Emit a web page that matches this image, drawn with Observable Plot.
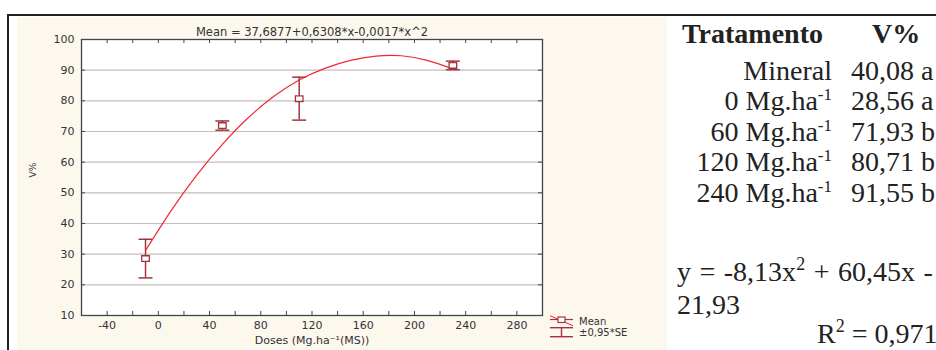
<!DOCTYPE html>
<html>
<head>
<meta charset="utf-8">
<script src="https://cdn.jsdelivr.net/npm/d3@7"></script>
<script src="https://cdn.jsdelivr.net/npm/@observablehq/plot@0.6"></script>
<style>
  html, body { margin: 0; padding: 0; background: #fff; }
  #page { position: relative; width: 936px; height: 350px; overflow: hidden; }
  #rule-top { position: absolute; left: 7px; top: 14px; width: 929px; height: 2px; background: #222; }
  #rule-left { position: absolute; left: 7px; top: 14px; width: 2px; height: 336px; background: #222; }
  #panel { position: absolute; left: 17px; top: 17px; width: 650px; height: 333px; background: #fcf8ee; }
  #legend { position: absolute; left: 545px; top: 310px; }
  #table { position: absolute; left: 668px; top: 0; }
  #table text { font-family: "Liberation Serif", "Times New Roman", serif; font-size: 28px; fill: #222; }
</style>
</head>
<body>
<div id="page">
  <div id="rule-top"></div>
  <div id="rule-left"></div>
  <div id="panel"></div>
  <svg id="legend" width="110" height="34"></svg>
  <svg id="table" width="268" height="350"></svg>
</div>
<script>
// Treatment means of base saturation (V%) with ±0.95*SE bars
const doses = [-10, 50, 110, 230];
const meanV = [28.56, 71.93, 80.71, 91.55];
const halfSE = [6.3, 1.5, 7.0, 1.4];

// Fitted quadratic curve, traced along the dose axis
const curveDose = [-10, 10, 30, 50, 70, 90, 110, 130, 150, 170, 190, 210, 230];
const curveV = [31.2, 44.2, 55.8, 65.8, 74.4, 81.4, 86.8, 90.6, 93.2, 94.6, 94.7, 93.2, 90.4];

// Axis ticks
const xTickLabels = [-40, 0, 40, 80, 120, 160, 200, 240, 280];
const xTickMarks = [-40, -20, 0, 20, 40, 60, 80, 100, 120, 140, 160, 180, 200, 220, 240, 260, 280];
const yTickLabels = [10, 20, 30, 40, 50, 60, 70, 80, 90, 100];
const yGrid = [20, 30, 40, 50, 60, 70, 80, 90];

// Chart texts
const titleText = "Mean = 37,6877+0,6308*x-0,0017*x^2";
const xLabel = "Doses (Mg.ha\u207B\u00B9(MS))";
const yLabel = "V%";
const legendLabels = ["Mean", "\u00B10,95*SE"];

// Side table
const treatments = ["Mineral", "0", "60", "120", "240"];
const treatmentV = ["40,08 a", "28,56 a", "71,93 b", "80,71 b", "91,55 b"];

const points = doses.map((d, i) => ({dose: d, mean: meanV[i], half: halfSE[i]}));
const caps = points.flatMap(p => [{dose: p.dose, v: p.mean - p.half}, {dose: p.dose, v: p.mean + p.half}]);
const curve = curveDose.map((d, i) => ({dose: d, v: curveV[i]}));

const errColor = "#a3343f";
const W = 650, H = 333;
const mL = 64, mR = 125, mT = 22, mB = 35;
const plotW = W - mL - mR, plotH = H - mT - mB;

// horizontal cap of an error bar, half-width = r
const capSymbol = {draw(ctx, size) { const r = Math.sqrt(size / Math.PI); ctx.moveTo(-r, 0); ctx.lineTo(r, 0); }};
// small rectangular mean marker
const boxSymbol = {draw(ctx, size) { const r = Math.sqrt(size / Math.PI); ctx.rect(-r, -r * 0.75, 2 * r, 1.5 * r); }};

const chart = Plot.plot({
  width: W,
  height: H,
  marginLeft: mL, marginRight: mR, marginTop: mT, marginBottom: mB,
  style: {background: "transparent", fontFamily: "'DejaVu Sans', sans-serif", fontSize: "11px", color: "#333", overflow: "visible"},
  x: {domain: [-60, 300], label: null},
  y: {domain: [10, 100], label: null},
  marks: [
    Plot.frame({fill: "#fff", stroke: null}),
    Plot.ruleY(yGrid, {stroke: "#c4bcbc", strokeWidth: 1.1}),
    // inward ticks on all four sides
    Plot.tickX(xTickMarks, {x: d => d, insetTop: plotH - 4, stroke: "#444"}),
    Plot.tickX(xTickMarks, {x: d => d, insetBottom: plotH - 4, stroke: "#444"}),
    Plot.tickY(yTickLabels, {y: d => d, insetRight: plotW - 4, stroke: "#444"}),
    Plot.tickY(yTickLabels, {y: d => d, insetLeft: plotW - 4, stroke: "#444"}),
    Plot.frame({stroke: "#444", strokeWidth: 1.3}),
    Plot.axisX({ticks: xTickLabels, tickSize: 0, tickPadding: 6, tickFormat: d => String(d), label: null, fill: "#333"}),
    Plot.axisY({ticks: yTickLabels, tickSize: 0, tickPadding: 7, tickFormat: d => String(d), label: null, fill: "#333"}),
    // error bars
    Plot.ruleX(points, {x: "dose", y1: d => d.mean - d.half, y2: d => d.mean + d.half, stroke: errColor, strokeWidth: 1.5}),
    Plot.dot(caps, {x: "dose", y: "v", symbol: capSymbol, r: 7, stroke: errColor, strokeWidth: 1.5}),
    // fitted curve
    Plot.line(curve, {x: "dose", y: "v", curve: "natural", stroke: "#ec2a33", strokeWidth: 1.2}),
    // means
    Plot.dot(points, {x: "dose", y: "mean", symbol: boxSymbol, r: 3.8, fill: "#fff", stroke: errColor, strokeWidth: 1.3}),
    // titles
    Plot.text([titleText], {text: d => d, frameAnchor: "top", dy: -12, fontSize: 11.5, fill: "#333"}),
    Plot.text([xLabel], {text: d => d, frameAnchor: "bottom", dy: 28, fontSize: 11, fill: "#333"}),
    Plot.text([yLabel], {text: d => d, frameAnchor: "left", dx: -48, rotate: -90, fontSize: 9, fill: "#333"})
  ]
});
chart.style.position = "absolute";
chart.style.left = "17px";
chart.style.top = "17px";
document.getElementById("page").appendChild(chart);

// legend: mean marker with fitted line, and error bar
const lg = d3.select("#legend");
lg.append("line").attr("x1", 5).attr("y1", 9.5).attr("x2", 28).attr("y2", 9.5).attr("stroke", errColor).attr("stroke-width", 1.2);
lg.append("line").attr("x1", 5).attr("y1", 5.7).attr("x2", 28).attr("y2", 15.7).attr("stroke", "#ec2a33").attr("stroke-width", 1);
lg.append("rect").attr("x", 13).attr("y", 7).attr("width", 7).attr("height", 5.5).attr("fill", "#fff").attr("stroke", errColor).attr("stroke-width", 1.2);
lg.append("line").attr("x1", 5).attr("y1", 17.7).attr("x2", 28).attr("y2", 17.7).attr("stroke", errColor).attr("stroke-width", 1.4);
lg.append("line").attr("x1", 16.5).attr("y1", 17.7).attr("x2", 16.5).attr("y2", 26.7).attr("stroke", errColor).attr("stroke-width", 1.4);
lg.append("line").attr("x1", 5).attr("y1", 26.7).attr("x2", 28).attr("y2", 26.7).attr("stroke", errColor).attr("stroke-width", 1.4);
lg.selectAll("text").data(legendLabels).join("text")
  .attr("x", 34).attr("y", (d, i) => 15 + i * 10.5)
  .attr("font-family", "'DejaVu Sans', sans-serif").attr("font-size", 10).attr("fill", "#333")
  .text(d => d);

// side table of treatment means
const tb = d3.select("#table");
tb.append("text").attr("x", 14).attr("y", 43).attr("font-weight", "bold").text("Tratamento");
tb.append("text").attr("x", 204).attr("y", 43).attr("font-weight", "bold").text("V%");
const rowBase = [80, 110, 141, 171, 202];
treatments.forEach((t, i) => {
  const lab = tb.append("text").attr("x", 164).attr("y", rowBase[i]).attr("text-anchor", "end");
  if (t === "Mineral") {
    lab.text(t);
  } else {
    lab.append("tspan").text(t + " Mg.ha");
    lab.append("tspan").attr("dy", -10).attr("font-size", 17).text("-1");
  }
  tb.append("text").attr("x", 183).attr("y", rowBase[i]).text(treatmentV[i]);
});
const eq = tb.append("text").attr("x", 9).attr("y", 281).attr("word-spacing", 1.5);
eq.append("tspan").text("y = -8,13x");
eq.append("tspan").attr("dy", -11).attr("font-size", 18).text("2");
eq.append("tspan").attr("dy", 11).text(" + 60,45x -");
tb.append("text").attr("x", 9).attr("y", 314).text("21,93");
const r2 = tb.append("text").attr("x", 149).attr("y", 343);
r2.append("tspan").text("R");
r2.append("tspan").attr("dy", -11).attr("font-size", 18).text("2");
r2.append("tspan").attr("dy", 11).text(" = 0,971");
</script>
</body>
</html>
